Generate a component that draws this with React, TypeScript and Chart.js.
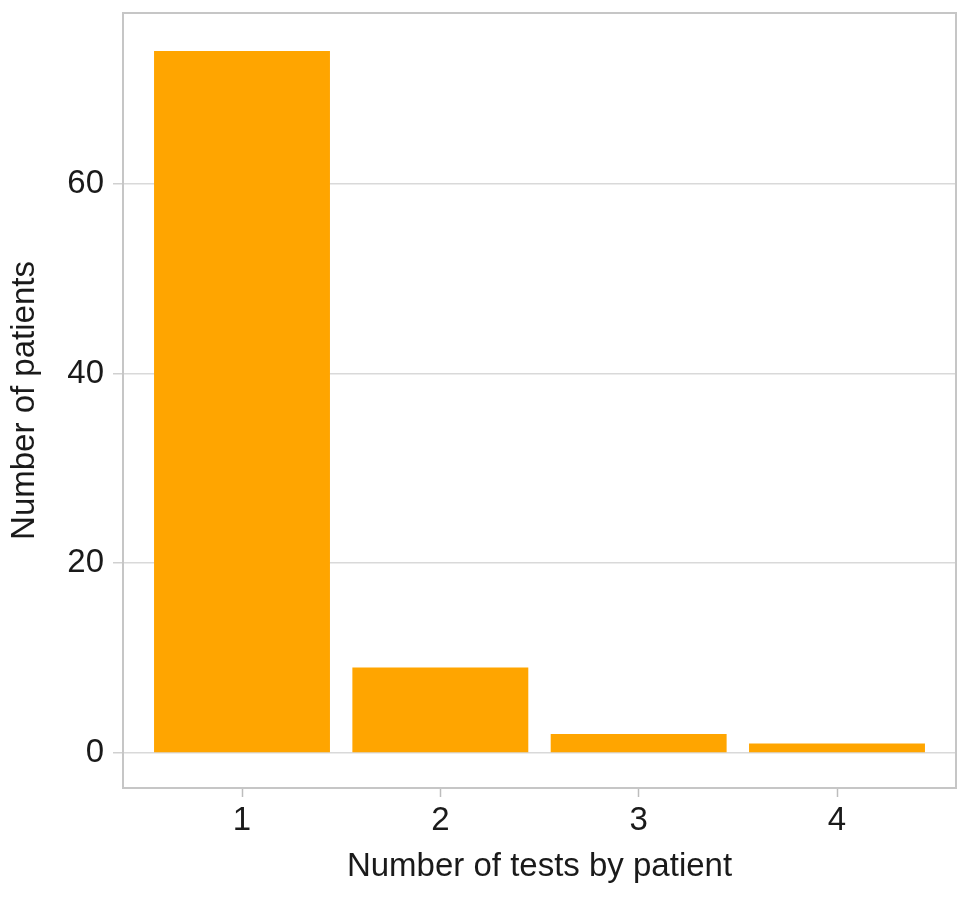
import React, { useEffect, useRef } from "react";
import { Chart, registerables } from "chart.js";

Chart.register(...registerables);

const categories = [1, 2, 3, 4];
const patientCounts = [74, 9, 2, 1];
const yTickValues = [0, 20, 40, 60];
const xTickValues = [1, 2, 3, 4];

const FONT = "'Liberation Sans', Arial, Helvetica, sans-serif";

const framePlugin = {
  id: "frame",
  afterDraw(chart: any) {
    const { ctx, chartArea } = chart;
    ctx.save();
    ctx.strokeStyle = "#c6c6c6";
    ctx.lineWidth = 2;
    ctx.strokeRect(chartArea.left, chartArea.top, chartArea.right - chartArea.left, chartArea.bottom - chartArea.top);
    ctx.restore();
  },
};

export default function App() {
  const ref = useRef<HTMLCanvasElement | null>(null);

  useEffect(() => {
    if (!ref.current) return;
    const chart = new Chart(ref.current, {
      type: "bar",
      data: {
        datasets: [
          {
            data: categories.map((c, i) => ({ x: c, y: patientCounts[i] })),
            backgroundColor: "#FFA500",
            borderWidth: 0,
            categoryPercentage: 1,
            barPercentage: 0.887,
          },
        ],
      },
      options: {
        animation: false,
        responsive: false,
        layout: { padding: { left: 0, top: 13, right: 13, bottom: 0 } },
        plugins: {
          legend: { display: false },
          tooltip: { enabled: false },
        },
        scales: {
          x: {
            type: "linear",
            min: 0.4,
            max: 4.6,
            offset: false,
            afterBuildTicks: (scale: any) => {
              scale.ticks = xTickValues.map((v) => ({ value: v }));
            },
            afterFit: (scale: any) => {
              scale.height = 114;
              scale.paddingLeft = 0;
              scale.paddingRight = 0;
            },
            border: { display: false },
            grid: {
              offset: false,
              drawOnChartArea: false,
              drawTicks: true,
              tickLength: 9,
              tickColor: "#bdbdbd",
              tickWidth: 1.5,
            },
            ticks: {
              padding: 4,
              color: "#1a1a1a",
              font: { family: FONT, size: 33 },
              callback: (v: any) => String(v),
            },
            title: {
              display: true,
              text: "Number of tests by patient",
              color: "#1a1a1a",
              font: { family: FONT, size: 33 },
              padding: { top: 0, bottom: 15 },
            },
          },
          y: {
            type: "linear",
            min: -3.7,
            max: 78,
            afterBuildTicks: (scale: any) => {
              scale.ticks = yTickValues.map((v) => ({ value: v }));
            },
            afterFit: (scale: any) => {
              scale.width = 123;
              scale.paddingTop = 0;
              scale.paddingBottom = 0;
            },
            border: { display: false },
            grid: {
              color: "#d9d9d9",
              lineWidth: 1.5,
              drawTicks: true,
              tickLength: 10,
              tickColor: "#d0d0d0",
            },
            ticks: {
              padding: 9,
              color: "#1a1a1a",
              font: { family: FONT, size: 33 },
              callback: (v: any) => String(v),
            },
            title: {
              display: true,
              text: "Number of patients",
              color: "#1a1a1a",
              font: { family: FONT, size: 33 },
              padding: { top: 5, bottom: 0 },
            },
          },
        },
      },
      plugins: [framePlugin],
    } as any);
    return () => chart.destroy();
  }, []);

  return (
    <div style={{ position: "fixed", left: 0, top: 0, width: 969, height: 902, background: "#fff" }}>
      <canvas ref={ref} width={969} height={902} style={{ display: "block" }} />
    </div>
  );
}
